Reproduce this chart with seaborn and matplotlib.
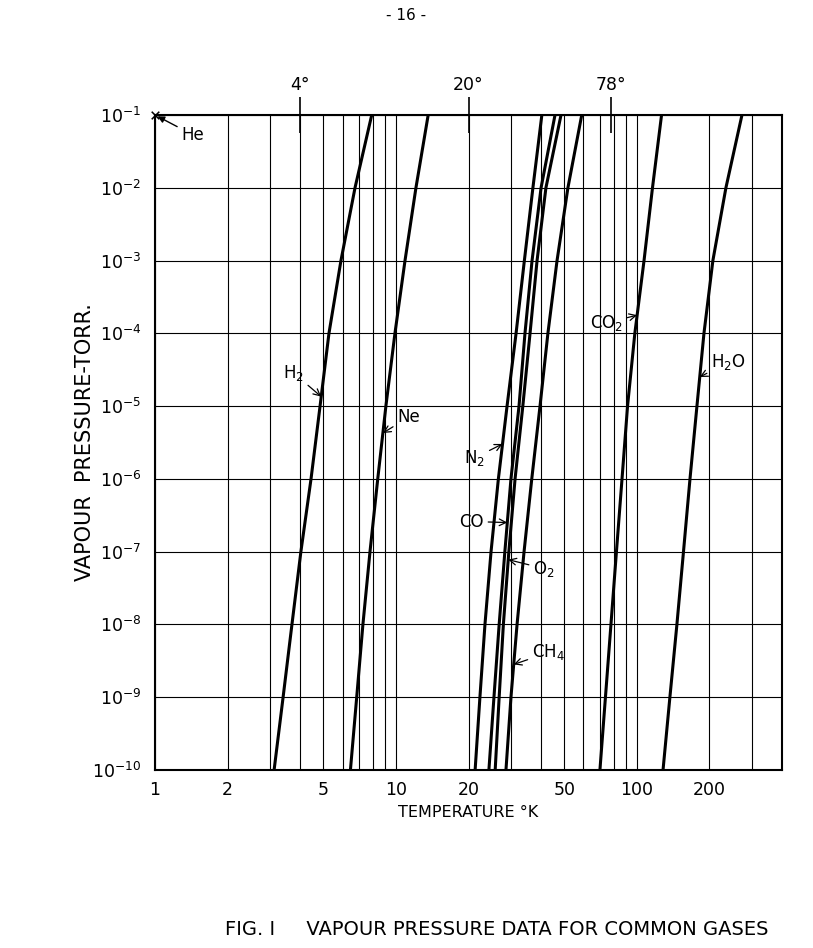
import numpy as np
import pandas as pd
import matplotlib.pyplot as plt
import seaborn as sns
from matplotlib.ticker import LogLocator, FixedLocator, NullFormatter, NullLocator

pressure = [1e-1, 1e-2, 1e-3, 1e-4, 1e-5, 1e-6, 1e-7, 1e-8, 1e-9, 1e-10]
t_h2 = [7.93, 6.76, 5.91, 5.27, 4.84, 4.44, 4.03, 3.70, 3.40, 3.12]
t_ne = [13.6, 12.1, 10.9, 9.9, 9.08, 8.40, 7.80, 7.29, 6.87, 6.47]
t_n2 = [40.3, 37.0, 34.1, 31.5, 28.9, 26.6, 24.8, 23.4, 22.3, 21.3]
t_co = [45.7, 40.0, 36.7, 34.3, 32.4, 30.0, 28.3, 26.8, 25.5, 24.3]
t_o2 = [48.4, 41.9, 38.5, 36.0, 33.6, 31.2, 29.4, 27.9, 26.8, 25.8]
t_ch4 = [59.0, 51.7, 46.6, 42.7, 39.6, 36.6, 34.0, 31.8, 30.0, 28.6]
t_co2 = [126.5, 116.0, 107.0, 98.0, 91.4, 86.7, 82.2, 78.0, 74.0, 70.2]
t_h2o = [272.8, 234.0, 206.6, 189.7, 177.4, 166.0, 156.0, 146.5, 137.0, 128.3]
he_t, he_p = [1.0], [1e-1]

gases = ['H2', 'Ne', 'N2', 'CO', 'O2', 'CH4', 'CO2', 'H2O']
temps = [t_h2, t_ne, t_n2, t_co, t_o2, t_ch4, t_co2, t_h2o]
labels = ['H$_2$', 'Ne', 'N$_2$', 'CO', 'O$_2$', 'CH$_4$', 'CO$_2$', 'H$_2$O']

top_marks = [4, 20, 78]
top_labels = ['4°', '20°', '78°']
x_ticks = [1, 2, 5, 10, 20, 50, 100, 200]
x_ticklabels = ['1', '2', '5', '10', '20', '50', '100', '200']

rows = []
for g, ts in zip(gases, temps):
    for t, p in zip(ts, pressure):
        rows.append({'gas': g, 'T': t, 'P': p})
df = pd.DataFrame(rows)

sns.set_style('white')
plt.rcParams['font.family'] = ['DejaVu Sans']
plt.rcParams['mathtext.default'] = 'regular'
plt.rcParams['text.color'] = 'black'
plt.rcParams['axes.labelcolor'] = 'black'

fig = plt.figure(figsize=(8.13, 9.48), dpi=100)
ax = fig.add_axes([0.1907, 0.1878, 0.7712, 0.6909])

sns.lineplot(data=df, x='T', y='P', units='gas', estimator=None, sort=False,
             color='black', lw=2.2, ax=ax, legend=False)
sns.scatterplot(x=he_t, y=he_p, marker='x', color='black', s=30,
                linewidth=1.1, clip_on=False, zorder=5, ax=ax)

ax.set_xscale('log')
ax.set_yscale('log')
ax.set_xlim(1, 400)
ax.set_ylim(1e-10, 1e-1)

ax.xaxis.set_major_locator(FixedLocator(x_ticks))
ax.set_xticklabels(x_ticklabels)
ax.xaxis.set_minor_locator(LogLocator(base=10, subs=np.arange(1, 10)))
ax.xaxis.set_minor_formatter(NullFormatter())
ax.yaxis.set_major_locator(FixedLocator(pressure))
ax.set_yticklabels([r'$10^{-%d}$' % i for i in range(1, 11)])
ax.yaxis.set_minor_locator(NullLocator())
ax.tick_params(axis='both', which='both', length=0, labelsize=12.5, colors='black')
ax.tick_params(axis='x', pad=8)
ax.tick_params(axis='y', pad=10)

ax.grid(True, which='both', axis='x', color='black', lw=0.8)
ax.grid(True, which='major', axis='y', color='black', lw=0.8)
for s in ax.spines.values():
    s.set_color('black')
    s.set_linewidth(1.5)

ax.set_xlabel('TEMPERATURE °K', fontsize=11.5, labelpad=4)
ax.set_ylabel('VAPOUR  PRESSURE-TORR.', fontsize=15)
ax.yaxis.set_label_coords(-0.095, 0.5)

top = ax.secondary_xaxis('top')
top.set_xticks(top_marks)
top.set_xticklabels(top_labels)
top.xaxis.set_minor_locator(NullLocator())
top.tick_params(axis='x', direction='inout', length=26, width=1.2, labelsize=12.5,
                pad=2, colors='black')
top.spines['top'].set_visible(False)

# labels with arrows: (log10 pressure of arrow tip, text offset in pixels)
tips = {'H2': (-4.87, (-28, 24)), 'Ne': (-5.37, (26, 16)), 'N2': (-5.52, (-28, -14)),
        'CO': (-6.60, (-36, 1)), 'O2': (-7.11, (36, -9)), 'CH4': (-8.55, (35, 12)),
        'CO2': (-3.75, (-31, -8)), 'H2O': (-4.60, (29, 15))}
lp = np.log10(pressure)[::-1]
for g, ts, lab in zip(gases, temps, labels):
    lpt, off = tips[g]
    lt = np.interp(lpt, lp, np.log10(ts)[::-1])
    ax.annotate(lab, xy=(10 ** lt, 10 ** lpt), xytext=off, textcoords='offset pixels',
                ha='center', va='center', fontsize=12,
                arrowprops=dict(arrowstyle='->', color='black', lw=0.9,
                                shrinkA=1, shrinkB=0))
ax.annotate('He', xy=(he_t[0], he_p[0]), xytext=(38, -20), textcoords='offset pixels',
            ha='center', va='center', fontsize=12, annotation_clip=False,
            arrowprops=dict(arrowstyle='-|>', color='black', lw=1.0,
                            shrinkA=1, shrinkB=2, mutation_scale=10))

fig.text(0.5, 0.984, '- 16 -', ha='center', va='center', fontsize=11)
fig.text(0.277, 0.02, 'FIG. I     VAPOUR PRESSURE DATA FOR COMMON GASES',
         ha='left', va='center', fontsize=14)

fig.savefig('out.png', dpi=100)
